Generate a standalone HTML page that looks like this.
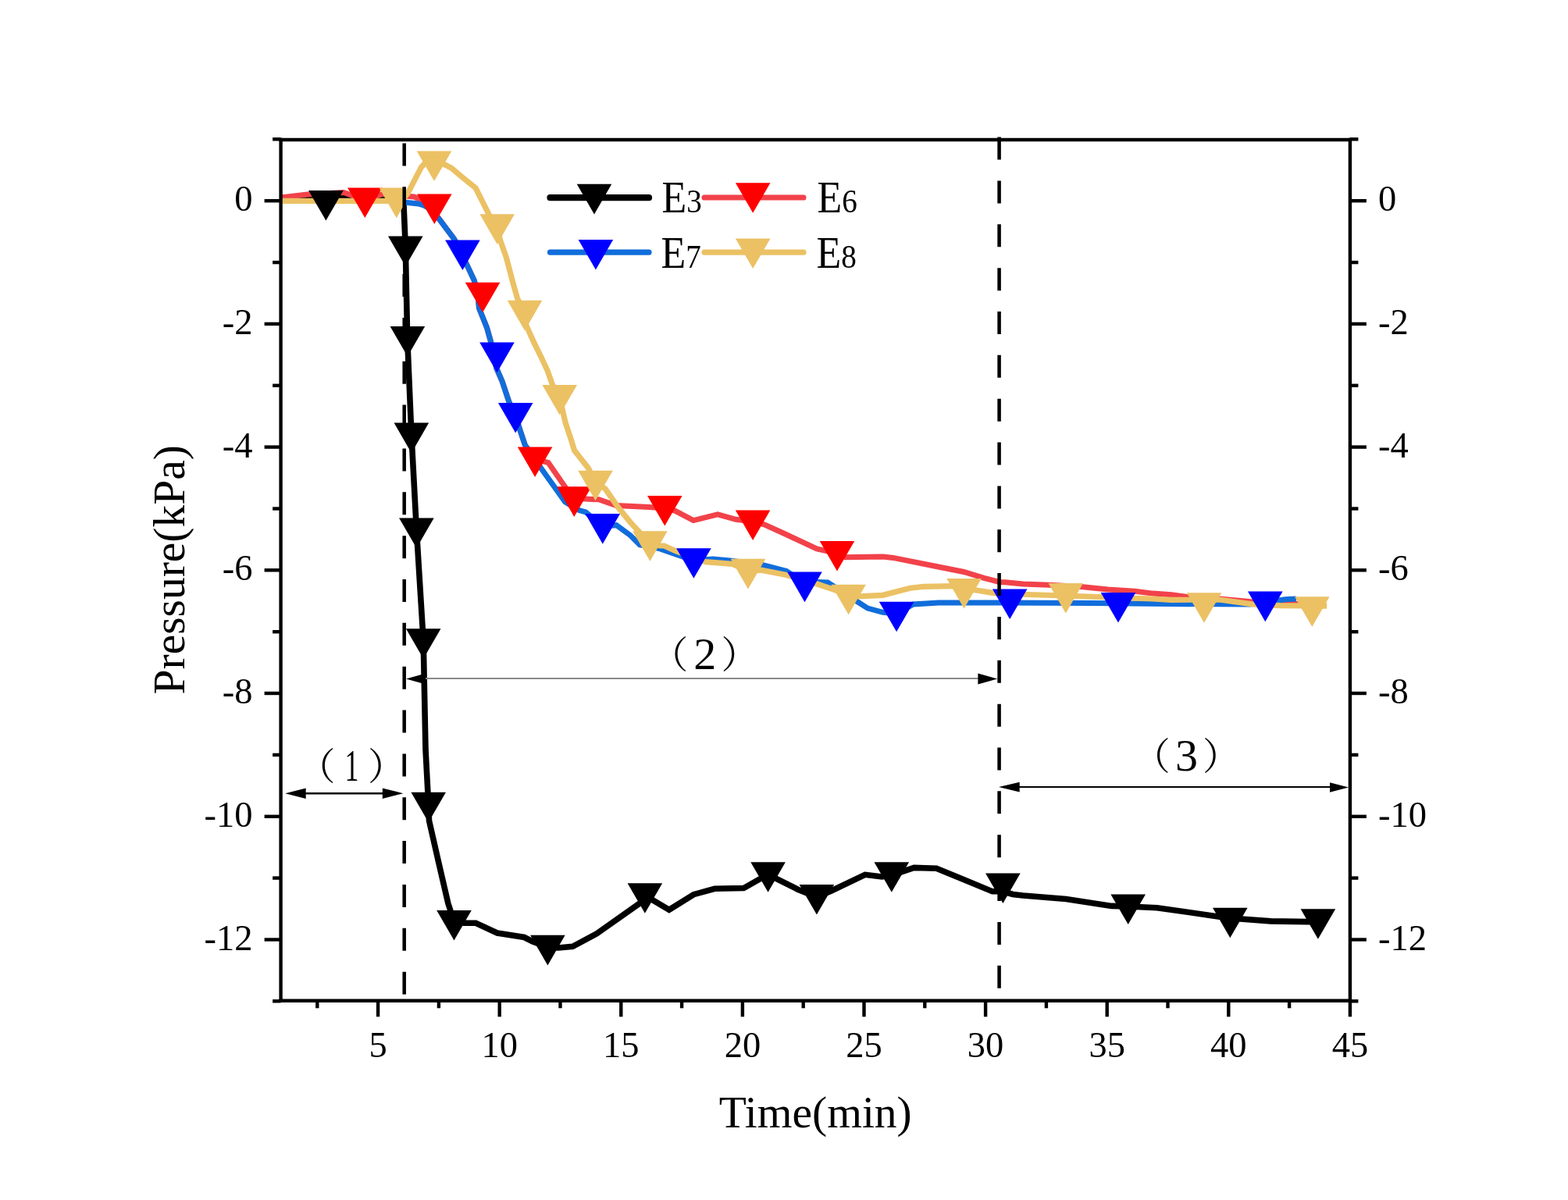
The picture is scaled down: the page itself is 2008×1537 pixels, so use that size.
<!DOCTYPE html>
<html><head><meta charset="utf-8"><title>Pressure vs Time</title>
<style>
html,body{margin:0;padding:0;background:#fff;}
body{width:2008px;height:1537px;overflow:hidden;}
svg{display:block;}
text{font-family:"Liberation Serif","Noto Serif CJK SC",serif;fill:#000;}
.cjk{font-family:"Noto Serif CJK SC","Liberation Serif",serif;}
</style></head><body>
<svg width="2008" height="1537" viewBox="0 0 2008 1537">
<rect width="2008" height="1537" fill="#ffffff"/>
<defs><clipPath id="cl1"><rect x="400" y="150" width="117" height="200"/></clipPath></defs>

<polyline points="360.0,253.5 395.0,253.0 417.0,259.0 440.0,251.5 514.0,251.5 517.0,262.0 519.3,318.0 521.7,434.0 526.9,557.0 533.4,679.0 542.2,821.0 545.0,960.0 548.7,1030.0 549.5,1051.0 562.0,1105.8 573.8,1156.8 581.5,1181.0 594.8,1182.3 609.3,1182.3 636.7,1195.0 671.3,1200.5 682.2,1206.0 701.4,1213.0 715.0,1214.0 733.4,1212.3 764.2,1195.8 822.5,1154.7 825.9,1147.0 856.9,1165.2 888.3,1145.7 915.2,1138.3 952.5,1137.5 983.4,1120.0 1021.7,1139.2 1045.9,1149.0 1064.7,1141.0 1107.8,1120.3 1129.3,1123.0 1141.8,1121.0 1170.5,1111.4 1199.2,1112.3 1229.7,1124.8 1270.9,1141.8 1284.4,1141.8 1297.0,1145.5 1310.0,1147.0 1365.2,1151.5 1423.4,1160.4 1444.7,1161.0 1481.7,1162.7 1560.1,1173.9 1575.3,1176.0 1627.4,1179.9 1674.4,1180.6 1688.0,1180.5" fill="none" stroke="#000000" stroke-width="7.6" stroke-linejoin="miter" stroke-miterlimit="3" stroke-linecap="butt"/>
<polyline points="360.0,253.0 394.0,249.0 440.0,246.5 467.0,256.0 490.0,248.5 517.0,251.0 530.0,252.0 542.0,257.0 553.0,267.0 562.9,281.2 581.6,306.2 590.0,323.0 598.5,340.6 607.4,359.4 612.0,378.0 613.5,394.7 623.4,419.4 628.3,436.7 635.7,471.4 643.2,488.7 651.8,514.6 660.0,532.0 666.6,552.9 672.3,569.9 685.0,588.0 702.1,592.6 723.7,623.7 735.0,638.0 753.5,639.2 766.7,639.8 789.4,647.6 831.2,649.4 851.0,651.0 864.7,654.3 888.0,666.6 919.1,658.8 942.4,665.3 964.0,668.0 978.7,671.8 1007.2,684.7 1046.0,702.9 1056.8,705.3 1072.0,709.0 1082.7,713.7 1130.6,713.1 1143.6,714.4 1195.4,724.7 1234.2,732.5 1260.1,740.3 1279.5,745.5 1287.2,745.8 1310.1,748.1 1343.3,749.3 1384.5,751.5 1418.9,755.0 1453.3,757.3 1476.2,760.1 1500.0,761.8 1520.0,764.5 1561.7,767.0 1600.0,770.5 1640.0,772.5 1698.0,775.5" fill="none" stroke="#F2424A" stroke-width="7" stroke-linejoin="miter" stroke-miterlimit="3" stroke-linecap="butt"/>
<polyline points="517.0,259.0 535.9,261.0 542.9,263.1 552.0,268.0 562.9,281.2 581.6,306.2 590.0,323.0 598.5,340.6 607.4,359.4 612.0,378.0 613.5,394.7 623.4,419.4 628.3,436.7 635.7,471.4 643.2,488.7 651.8,514.6 660.0,532.0 666.6,552.9 672.3,569.9 685.0,588.0 693.8,601.0 711.7,626.0 723.7,642.8 741.6,653.5 750.0,655.9 771.8,674.0 789.4,672.7 807.3,685.8 819.3,697.8 845.3,702.9 888.4,718.0 912.6,716.0 934.7,718.0 976.1,723.5 1007.2,731.4 1030.5,747.0 1046.5,745.5 1060.0,746.0 1097.0,770.0 1111.2,779.1 1130.6,784.3 1148.1,786.0 1169.5,774.0 1201.9,772.0 1279.5,772.0 1400.0,772.5 1500.0,773.5 1600.0,774.0 1620.0,772.0 1645.4,767.8 1660.0,767.0" fill="none" stroke="#116DDB" stroke-width="7" stroke-linejoin="miter" stroke-miterlimit="3" stroke-linecap="butt"/>
<polyline points="360.0,257.3 498.0,257.4 508.0,259.0 514.0,257.5 522.0,248.0 539.4,214.3 545.0,208.0 556.0,209.0 569.4,210.8 577.8,215.0 591.7,226.8 609.1,240.8 616.1,254.7 626.6,275.6 636.7,290.0 640.5,307.4 648.3,329.6 657.1,362.8 662.7,382.7 672.0,400.0 674.0,417.0 684.0,439.2 692.6,456.5 701.2,475.0 707.4,492.4 716.7,509.0 724.0,541.0 731.0,562.0 735.6,577.0 753.5,599.8 762.5,618.0 775.0,626.0 791.8,650.0 807.3,669.1 832.4,696.0 845.3,699.0 850.4,699.0 864.7,705.5 903.6,719.7 937.3,722.3 958.0,731.0 974.8,730.1 1007.2,736.5 1046.5,748.0 1069.8,755.8 1086.6,764.0 1104.7,763.6 1130.6,762.3 1165.6,753.2 1182.4,751.3 1221.3,750.6 1234.6,754.0 1253.6,756.5 1273.1,759.7 1315.8,761.5 1364.8,763.0 1476.2,767.0 1500.0,768.4 1561.7,768.0 1603.5,773.8 1639.4,775.6 1699.2,776.2" fill="none" stroke="#EBC164" stroke-width="7.2" stroke-linejoin="miter" stroke-miterlimit="3" stroke-linecap="butt"/>
<g fill="#000000"><polygon points="395.1,244.0 439.7,244.0 417.4,282.6"/><polygon points="497.0,302.5 541.6,302.5 519.3,341.1"/><polygon points="499.6,418.0 544.2,418.0 521.9,456.6"/><polygon points="504.6,541.6 549.2,541.6 526.9,580.2"/><polygon points="511.1,663.4 555.7,663.4 533.4,702.0"/><polygon points="519.9,805.2 564.5,805.2 542.2,843.8"/><polygon points="526.4,1014.7 571.0,1014.7 548.7,1053.3"/><polygon points="559.2,1165.9 603.8,1165.9 581.5,1204.5"/><polygon points="679.1,1197.8 723.7,1197.8 701.4,1236.4"/><polygon points="803.6,1131.2 848.2,1131.2 825.9,1169.8"/><polygon points="961.3,1104.2 1005.9,1104.2 983.6,1142.8"/><polygon points="1023.6,1132.9 1068.2,1132.9 1045.9,1171.5"/><polygon points="1119.5,1104.2 1164.1,1104.2 1141.8,1142.8"/><polygon points="1262.1,1118.5 1306.7,1118.5 1284.4,1157.1"/><polygon points="1422.4,1145.4 1467.0,1145.4 1444.7,1184.0"/><polygon points="1553.0,1162.7 1597.6,1162.7 1575.3,1201.3"/><polygon points="1665.6,1164.2 1710.2,1164.2 1687.9,1202.8"/></g>
<g fill="#FF0000"><polygon points="445.0,240.4 489.6,240.4 467.3,279.0"/><polygon points="534.0,248.4 578.6,248.4 556.3,287.0"/><polygon points="595.8,361.7 640.4,361.7 618.1,400.3"/><polygon points="662.8,572.5 707.4,572.5 685.1,611.1"/><polygon points="713.0,623.3 757.6,623.3 735.3,661.9"/><polygon points="829.0,635.0 873.6,635.0 851.3,673.6"/><polygon points="941.8,653.4 986.4,653.4 964.1,692.0"/><polygon points="1049.7,693.0 1094.3,693.0 1072.0,731.6"/></g>
<g fill="#0000FF"><polygon points="570.1,307.4 614.7,307.4 592.4,346.0"/><polygon points="614.2,438.6 658.8,438.6 636.5,477.2"/><polygon points="637.9,515.9 682.5,515.9 660.2,554.5"/><polygon points="749.5,658.1 794.1,658.1 771.8,696.7"/><polygon points="866.1,702.2 910.7,702.2 888.4,740.8"/><polygon points="1008.2,732.6 1052.8,732.6 1030.5,771.2"/><polygon points="1125.8,770.7 1170.4,770.7 1148.1,809.3"/><polygon points="1270.9,754.4 1315.5,754.4 1293.2,793.0"/><polygon points="1409.7,759.0 1454.3,759.0 1432.0,797.6"/><polygon points="1598.0,757.6 1642.6,757.6 1620.3,796.2"/></g>
<g fill="#EBC164"><polygon points="533.7,193.4 578.3,193.4 556.0,232.0"/><polygon points="614.4,274.3 659.0,274.3 636.7,312.9"/><polygon points="649.7,384.8 694.3,384.8 672.0,423.4"/><polygon points="694.4,493.0 739.0,493.0 716.7,531.6"/><polygon points="740.2,602.7 784.8,602.7 762.5,641.3"/><polygon points="810.1,680.2 854.7,680.2 832.4,718.8"/><polygon points="935.7,715.8 980.3,715.8 958.0,754.4"/><polygon points="1064.3,748.7 1108.9,748.7 1086.6,787.3"/><polygon points="1212.3,740.9 1256.9,740.9 1234.6,779.5"/><polygon points="1342.5,747.0 1387.1,747.0 1364.8,785.6"/><polygon points="1519.7,759.2 1564.3,759.2 1542.0,797.8"/><polygon points="1658.0,764.2 1702.6,764.2 1680.3,802.8"/></g>
<g fill="#EBC164" clip-path="url(#cl1)"><polygon points="485.5,240.6 530.1,240.6 507.8,279.2"/></g>
<g stroke="#000" stroke-width="4.4" stroke-linecap="butt"><line x1="359.6" y1="176.8" x2="359.6" y2="1284.0"/><line x1="1728.9" y1="176.8" x2="1728.9" y2="1284.0"/><line x1="357.40000000000003" y1="179.0" x2="1731.1000000000001" y2="179.0"/><line x1="357.40000000000003" y1="1281.8" x2="1731.1000000000001" y2="1281.8"/><line x1="349.1" y1="178.3" x2="359.6" y2="178.3"/><line x1="1728.9" y1="178.3" x2="1739.4" y2="178.3"/><line x1="338.6" y1="257.2" x2="359.6" y2="257.2"/><line x1="1728.9" y1="257.2" x2="1749.9" y2="257.2"/><line x1="349.1" y1="336.1" x2="359.6" y2="336.1"/><line x1="1728.9" y1="336.1" x2="1739.4" y2="336.1"/><line x1="338.6" y1="414.9" x2="359.6" y2="414.9"/><line x1="1728.9" y1="414.9" x2="1749.9" y2="414.9"/><line x1="349.1" y1="493.8" x2="359.6" y2="493.8"/><line x1="1728.9" y1="493.8" x2="1739.4" y2="493.8"/><line x1="338.6" y1="572.6" x2="359.6" y2="572.6"/><line x1="1728.9" y1="572.6" x2="1749.9" y2="572.6"/><line x1="349.1" y1="651.5" x2="359.6" y2="651.5"/><line x1="1728.9" y1="651.5" x2="1739.4" y2="651.5"/><line x1="338.6" y1="730.3" x2="359.6" y2="730.3"/><line x1="1728.9" y1="730.3" x2="1749.9" y2="730.3"/><line x1="349.1" y1="809.2" x2="359.6" y2="809.2"/><line x1="1728.9" y1="809.2" x2="1739.4" y2="809.2"/><line x1="338.6" y1="888.0" x2="359.6" y2="888.0"/><line x1="1728.9" y1="888.0" x2="1749.9" y2="888.0"/><line x1="349.1" y1="966.9" x2="359.6" y2="966.9"/><line x1="1728.9" y1="966.9" x2="1739.4" y2="966.9"/><line x1="338.6" y1="1045.8" x2="359.6" y2="1045.8"/><line x1="1728.9" y1="1045.8" x2="1749.9" y2="1045.8"/><line x1="349.1" y1="1124.6" x2="359.6" y2="1124.6"/><line x1="1728.9" y1="1124.6" x2="1739.4" y2="1124.6"/><line x1="338.6" y1="1203.5" x2="359.6" y2="1203.5"/><line x1="1728.9" y1="1203.5" x2="1749.9" y2="1203.5"/><line x1="349.1" y1="1282.3" x2="359.6" y2="1282.3"/><line x1="1728.9" y1="1282.3" x2="1739.4" y2="1282.3"/><line x1="406.3" y1="1281.8" x2="406.3" y2="1291.3"/><line x1="484.1" y1="1281.8" x2="484.1" y2="1302.3"/><line x1="561.9" y1="1281.8" x2="561.9" y2="1291.3"/><line x1="639.7" y1="1281.8" x2="639.7" y2="1302.3"/><line x1="717.5" y1="1281.8" x2="717.5" y2="1291.3"/><line x1="795.3" y1="1281.8" x2="795.3" y2="1302.3"/><line x1="873.1" y1="1281.8" x2="873.1" y2="1291.3"/><line x1="950.9" y1="1281.8" x2="950.9" y2="1302.3"/><line x1="1028.7" y1="1281.8" x2="1028.7" y2="1291.3"/><line x1="1106.5" y1="1281.8" x2="1106.5" y2="1302.3"/><line x1="1184.3" y1="1281.8" x2="1184.3" y2="1291.3"/><line x1="1262.1" y1="1281.8" x2="1262.1" y2="1302.3"/><line x1="1339.9" y1="1281.8" x2="1339.9" y2="1291.3"/><line x1="1417.7" y1="1281.8" x2="1417.7" y2="1302.3"/><line x1="1495.5" y1="1281.8" x2="1495.5" y2="1291.3"/><line x1="1573.3" y1="1281.8" x2="1573.3" y2="1302.3"/><line x1="1651.1" y1="1281.8" x2="1651.1" y2="1291.3"/><line x1="1728.9" y1="1281.8" x2="1728.9" y2="1302.3"/></g>
<text x="323.5" y="270.2" text-anchor="end" font-size="46.5">0</text><text x="1765" y="270.2" font-size="46.5">0</text><text x="323.5" y="427.9" text-anchor="end" font-size="46.5">-2</text><text x="1765" y="427.9" font-size="46.5">-2</text><text x="323.5" y="585.6" text-anchor="end" font-size="46.5">-4</text><text x="1765" y="585.6" font-size="46.5">-4</text><text x="323.5" y="743.3" text-anchor="end" font-size="46.5">-6</text><text x="1765" y="743.3" font-size="46.5">-6</text><text x="323.5" y="901.0" text-anchor="end" font-size="46.5">-8</text><text x="1765" y="901.0" font-size="46.5">-8</text><text x="323.5" y="1058.8" text-anchor="end" font-size="46.5">-10</text><text x="1765" y="1058.8" font-size="46.5">-10</text><text x="323.5" y="1216.5" text-anchor="end" font-size="46.5">-12</text><text x="1765" y="1216.5" font-size="46.5">-12</text><text x="484.1" y="1353.5" text-anchor="middle" font-size="46.5">5</text><text x="639.7" y="1353.5" text-anchor="middle" font-size="46.5">10</text><text x="795.3" y="1353.5" text-anchor="middle" font-size="46.5">15</text><text x="950.9" y="1353.5" text-anchor="middle" font-size="46.5">20</text><text x="1106.5" y="1353.5" text-anchor="middle" font-size="46.5">25</text><text x="1262.1" y="1353.5" text-anchor="middle" font-size="46.5">30</text><text x="1417.7" y="1353.5" text-anchor="middle" font-size="46.5">35</text><text x="1573.3" y="1353.5" text-anchor="middle" font-size="46.5">40</text><text x="1728.9" y="1353.5" text-anchor="middle" font-size="46.5">45</text>
<text x="920.7" y="1444.3" font-size="57.5">Time(min)</text>
<text transform="translate(235.8,889.5) rotate(-90)" font-size="57.5">Pressure(kPa)</text>
<line x1="517.7" y1="183.5" x2="517.7" y2="1276" stroke="#000" stroke-width="4.5" stroke-dasharray="29 26.85"/>
<line x1="1279.6" y1="175.6" x2="1279.6" y2="1268" stroke="#000" stroke-width="4.5" stroke-dasharray="29 26.85"/>
<line x1="380" y1="1016.2" x2="500" y2="1016.2" stroke="#000" stroke-width="2.4"/>
<polygon points="365.2,1016.2 391.7,1009.4 391.7,1023.0" fill="#000"/><polygon points="516.3,1016.2 489.8,1009.4 489.8,1023.0" fill="#000"/>
<line x1="535" y1="868.9" x2="1262" y2="868.9" stroke="#8a8a8a" stroke-width="2"/>
<polygon points="520.0,869.5 545.0,862.5 545.0,876.5" fill="#000"/><polygon points="1277.4,869.5 1252.4,862.5 1252.4,876.5" fill="#000"/>
<line x1="1295" y1="1008" x2="1715" y2="1008" stroke="#000" stroke-width="1.9"/>
<polygon points="1279.0,1008.1 1305.7,1001.8 1305.7,1014.4" fill="#000"/><polygon points="1727.0,1008.5 1703.0,1002.2 1703.0,1014.8" fill="#000"/>
<text class="cjk" x="381.4" y="998.4" font-size="48">（</text><text transform="translate(450.5,1000.4) scale(0.62,1)" font-size="58" text-anchor="middle">1</text><text class="cjk" x="471.0" y="998.4" font-size="48">）</text>
<text class="cjk" x="833.2" y="854.6" font-size="48">（</text><text transform="translate(902.7,856.6) scale(1.0,1)" font-size="58" text-anchor="middle">2</text><text class="cjk" x="923.5" y="854.6" font-size="48">）</text>
<text class="cjk" x="1450.8" y="985.0" font-size="48">（</text><text transform="translate(1519.6,987.0) scale(1.0,1)" font-size="58" text-anchor="middle">3</text><text class="cjk" x="1540.0" y="985.0" font-size="48">）</text>
<line x1="704.5" y1="253.1" x2="831" y2="253.1" stroke="#000000" stroke-width="8.2" stroke-linecap="round"/><polygon points="738.7,235.8 783.3,235.8 761.0,274.4" fill="#000000"/><text transform="translate(847.5,271.5) scale(0.91,1)" font-size="57"><tspan>E</tspan><tspan font-size="43">3</tspan></text><line x1="902" y1="253.1" x2="1029" y2="253.1" stroke="#F2424A" stroke-width="7.0" stroke-linecap="round"/><polygon points="941.9,234.2 986.5,234.2 964.2,272.8" fill="#FF0000"/><text transform="translate(1046.5,271.8) scale(0.91,1)" font-size="57"><tspan>E</tspan><tspan font-size="43">6</tspan></text><line x1="704.5" y1="323.2" x2="831" y2="323.2" stroke="#116DDB" stroke-width="7.2" stroke-linecap="round"/><polygon points="740.6,307.0 785.2,307.0 762.9,345.6" fill="#0000FF"/><text transform="translate(846.5,343.1) scale(0.91,1)" font-size="57"><tspan>E</tspan><tspan font-size="43">7</tspan></text><line x1="902" y1="323.2" x2="1029" y2="323.2" stroke="#EBC164" stroke-width="7.2" stroke-linecap="round"/><polygon points="941.9,305.5 986.5,305.5 964.2,344.1" fill="#EBC164"/><text transform="translate(1045.5,343.1) scale(0.91,1)" font-size="57"><tspan>E</tspan><tspan font-size="43">8</tspan></text>
</svg></body></html>
